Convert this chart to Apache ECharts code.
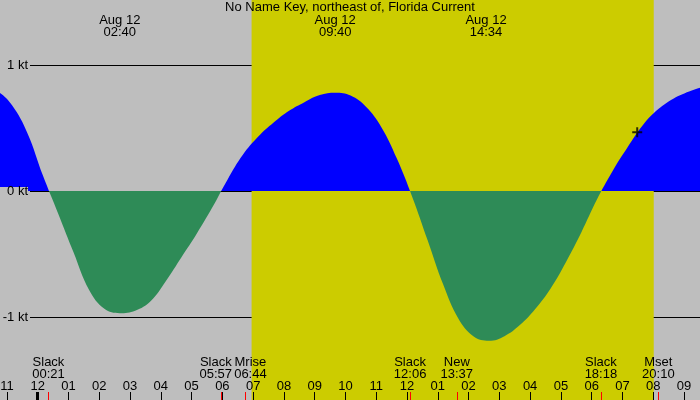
<!DOCTYPE html>
<html><head><meta charset="utf-8">
<script src="https://cdn.jsdelivr.net/npm/echarts@6/dist/echarts.min.js"></script>
<style>html,body{margin:0;padding:0;background:#bebebe}#c{width:700px;height:400px}</style>
</head><body><div id="c"></div>
<script>
const titleText = 'No Name Key, northeast of, Florida Current';
const dateLabel = 'Aug 12';
// tidal current (kt) read every half hour (at :10 and :40), minutes after midnight Aug 12
const currentMinutes = [-110,-80,-50,-20,10,40,70,100,130,160,190,220,250,280,310,340,370,400,430,460,490,520,550,580,610,640,670,700,730,760,790,820,850,880,910,940,970,1000,1030,1060,1090,1120,1150,1180,1210,1240,1270,1300];
const currentValues = [0.84,0.795,0.68,0.459,0.125,-0.18,-0.488,-0.783,-0.935,-0.97,-0.95,-0.875,-0.714,-0.527,-0.339,-0.134,0.09,0.287,0.432,0.543,0.636,0.705,0.761,0.78,0.757,0.668,0.506,0.259,-0.045,-0.389,-0.737,-1.012,-1.155,-1.189,-1.152,-1.064,-0.936,-0.773,-0.563,-0.327,-0.07,0.153,0.347,0.524,0.65,0.735,0.79,0.83];
const tickHours = [-1,0,1,2,3,4,5,6,7,8,9,10,11,12,13,14,15,16,17,18,19,20,21];
const tickLabels = ['11','12','01','02','03','04','05','06','07','08','09','10','11','12','01','02','03','04','05','06','07','08','09'];
const dayStartHours = [0];
const eventNames = ['Slack','Slack','Mrise','Slack','New','Slack','Mset'];
const eventTimes = ['00:21','05:57','06:44','12:06','13:37','18:18','20:10'];
const extremeTimes = ['02:40','09:40','14:34'];
const daylightTimes = ['06:57','20:01'];
const nowHour = [19.48];
const nowValue = [0.466];
const speedTicks = [-1,0,1];
const xRange = [-1.225, 21.52];
const yRange = [-1.659, 1.516];

const toHour = s => parseInt(s.slice(0,2),10) + parseInt(s.slice(3),10)/60;
const eventHours = eventTimes.map(toHour);
const extremeHours = extremeTimes.map(toHour);
const findIdx = (arr, v) => arr.findIndex(h => Math.abs(h - v) < 1e-6);

const FONT = 'Liberation Sans';
const FS = 13;
const chart = echarts.init(document.getElementById('c'), null, {renderer:'canvas'});
const areaData = currentMinutes.map((m,i)=>[m/60, currentValues[i]]);

function eventLabel(v){
  const i = findIdx(eventHours, v);
  if (i < 0) return '';
  let style = 'c';
  const n = eventHours.length;
  const nearNext = i < n-1 && eventHours[i+1] - eventHours[i] < 1;
  const nearPrev = i > 0 && eventHours[i] - eventHours[i-1] < 1;
  if (nearNext && !nearPrev) style = 'l';
  if (nearPrev && !nearNext) style = 'r';
  return '{'+style+'|'+eventNames[i]+'}\n{'+style+'|'+eventTimes[i]+'}';
}
const richEv = {
  c:{fontSize:FS, fontFamily:FONT, color:'#000', lineHeight:12},
  l:{fontSize:FS, fontFamily:FONT, color:'#000', lineHeight:12, padding:[0,10,0,0]},
  r:{fontSize:FS, fontFamily:FONT, color:'#000', lineHeight:12, padding:[0,0,0,11]}
};
const bigAbs = Math.max(Math.abs(yRange[0]), Math.abs(yRange[1])) * 10;

const option = {
  animation:false,
  backgroundColor:'#bebebe',
  textStyle:{fontFamily:FONT},
  title:{text:titleText, left:'center', top:1, padding:0, textStyle:{fontSize:FS, fontWeight:'normal', color:'#000', fontFamily:FONT}},
  grid:[
    {left:0,right:0,top:0,bottom:0, outerBoundsMode:'none', containLabel:false},
    {left:30,right:0,top:0,bottom:0, outerBoundsMode:'none', containLabel:false}
  ],
  xAxis:[
    {type:'value', gridIndex:0, min:xRange[0], max:xRange[1], position:'bottom', z:1,
     axisLine:{show:false, onZero:false}, splitLine:{show:false},
     axisTick:{show:true, inside:true, length:8, customValues:tickHours, lineStyle:{color:'#000',width:1}},
     axisLabel:{show:true, inside:true, margin:7, customValues:tickHours, fontSize:FS, color:'#000', fontFamily:FONT,
       formatter:v=>{const i=findIdx(tickHours,v);return i<0?'':tickLabels[i];}}},
    {type:'value', gridIndex:0, min:xRange[0], max:xRange[1], position:'bottom', z:2,
     axisLine:{show:false, onZero:false}, splitLine:{show:false},
     axisTick:{show:true, inside:true, length:8, customValues:eventHours, lineStyle:{color:'#ff0000',width:1}},
     axisLabel:{show:true, inside:true, margin:20, customValues:eventHours, formatter:eventLabel, rich:richEv, hideOverlap:false}},
    {type:'value', gridIndex:0, min:xRange[0], max:xRange[1], position:'top', z:1,
     axisLine:{show:false, onZero:false}, splitLine:{show:false}, axisTick:{show:false},
     axisLabel:{show:true, inside:true, margin:14, customValues:extremeHours, fontSize:FS, color:'#000', fontFamily:FONT, lineHeight:12,
       formatter:v=>{const i=findIdx(extremeHours,v);return i<0?'':dateLabel+'\n'+extremeTimes[i];}}},
    {type:'value', gridIndex:0, min:xRange[0], max:xRange[1], position:'bottom', z:1,
     axisLine:{show:false, onZero:false}, splitLine:{show:false}, axisLabel:{show:false},
     axisTick:{show:true, inside:true, length:8, customValues:dayStartHours, lineStyle:{color:'#000',width:3}}},
    {type:'value', gridIndex:1, min:0, max:1, show:false, axisLine:{onZero:false}}
  ],
  yAxis:[
    {type:'value', gridIndex:0, min:yRange[0], max:yRange[1], show:false, axisLine:{onZero:false}},
    {type:'value', gridIndex:1, min:yRange[0], max:yRange[1], z:1,
     axisLine:{show:false, onZero:false}, axisTick:{show:false, customValues:speedTicks}, axisLabel:{show:false},
     splitLine:{show:true, lineStyle:{color:'#000', width:1}}},
    {type:'value', gridIndex:1, min:yRange[0], max:yRange[1], z:6, position:'left',
     axisLine:{show:false, onZero:false}, axisTick:{show:false, customValues:speedTicks}, splitLine:{show:false},
     axisLabel:{show:true, margin:2, customValues:speedTicks, fontSize:FS, color:'#000', fontFamily:FONT,
       backgroundColor:'#bebebe', lineHeight:8, padding:[0,0,0,10],
       formatter:v=>v+' kt'}}
  ],
  visualMap:{show:false, type:'piecewise', seriesIndex:1, dimension:1,
    pieces:[{min:-bigAbs,max:0,color:'#2e8b57'},{gt:0,lte:bigAbs,color:'#0000ff'}]},
  series:[
    {type:'line', xAxisIndex:0, yAxisIndex:0, data:[], z:0, silent:true,
     markArea:{silent:true, itemStyle:{color:'#cccc00'},
       data:[[{xAxis:toHour(daylightTimes[0])},{xAxis:toHour(daylightTimes[1])}]]}},
    {type:'line', xAxisIndex:0, yAxisIndex:0, data:areaData, z:3, silent:true,
     smooth:0.4, showSymbol:false, symbol:'none',
     lineStyle:{width:0, opacity:0}, areaStyle:{opacity:1}},
    {type:'scatter', xAxisIndex:0, yAxisIndex:0, z:4, silent:true,
     data:nowHour.map((h,i)=>[h,nowValue[i]]),
     symbol:'path://M4,0H6V10H4Z M0,4H10V6H0Z', symbolSize:10, itemStyle:{color:'#000'}}
  ]
};
chart.setOption(option);
</script></body></html>
